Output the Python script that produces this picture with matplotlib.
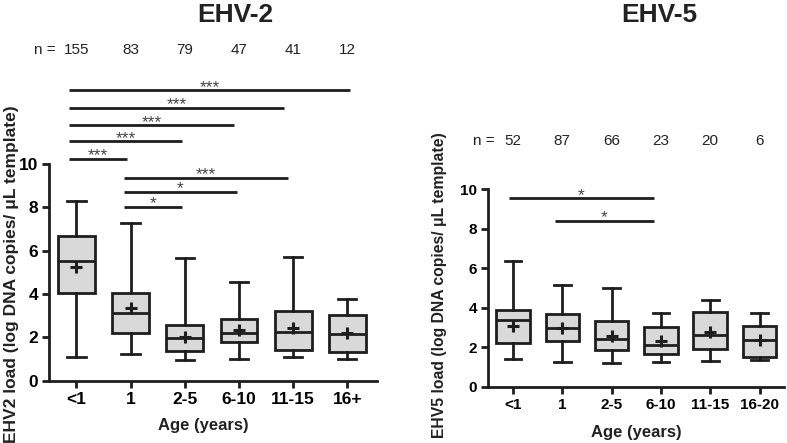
import numpy as np
import matplotlib.pyplot as plt

plt.rcParams['font.family'] = ['Liberation Sans', 'DejaVu Sans']

# EHV-2 data
ehv2_groups = ["<1", "1", "2-5", "6-10", "11-15", "16+"]
ehv2_n = [155, 83, 79, 47, 41, 12]
ehv2_whislo = [1.10, 1.22, 0.97, 0.98, 1.09, 0.98]
ehv2_q1 = [4.07, 2.20, 1.35, 1.78, 1.43, 1.34]
ehv2_med = [5.52, 3.11, 1.97, 2.18, 2.26, 2.15]
ehv2_q3 = [6.67, 4.06, 2.57, 2.86, 3.20, 3.02]
ehv2_whishi = [8.31, 7.29, 5.65, 4.54, 5.69, 3.78]
ehv2_mean = [5.26, 3.37, 2.02, 2.35, 2.42, 2.18]
# significance bars: start, end, height, label
ehv2_sig_x0 = [-0.14, -0.14, -0.14, -0.14, -0.14, 0.87, 0.87, 0.87]
ehv2_sig_x1 = [0.93, 1.95, 2.91, 3.84, 5.05, 1.95, 2.97, 3.91]
ehv2_sig_y = [10.24, 11.05, 11.78, 12.60, 13.41, 8.03, 8.72, 9.37]
ehv2_sig_lab = ["***", "***", "***", "***", "***", "*", "*", "***"]

# EHV-5 data
ehv5_groups = ["<1", "1", "2-5", "6-10", "11-15", "16-20"]
ehv5_n = [52, 87, 66, 23, 20, 6]
ehv5_whislo = [1.40, 1.23, 1.22, 1.27, 1.29, 1.37]
ehv5_q1 = [2.21, 2.33, 1.86, 1.64, 1.91, 1.49]
ehv5_med = [3.36, 2.96, 2.40, 2.11, 2.64, 2.35]
ehv5_q3 = [3.90, 3.67, 3.31, 3.04, 3.78, 3.07]
ehv5_whishi = [6.39, 5.15, 4.98, 3.73, 4.41, 3.75]
ehv5_mean = [3.09, 2.97, 2.58, 2.33, 2.77, 2.35]
ehv5_sig_x0 = [-0.08, 0.85]
ehv5_sig_x1 = [2.85, 2.85]
ehv5_sig_y = [9.55, 8.40]
ehv5_sig_lab = ["*", "*"]

dark = "#1e1e1e"
fill = "#d9d9d9"


def draw_panel(ax, groups, n, lo, q1, med, q3, hi, mean, sx0, sx1, sy, slab,
               xmax, ymax, tick_fs, n_y, n_eq_x):
    stats = []
    for i in range(len(groups)):
        stats.append(dict(whislo=lo[i], q1=q1[i], med=med[i], q3=q3[i],
                          whishi=hi[i], mean=mean[i], fliers=[]))
    pos = np.arange(len(groups))
    ax.bxp(stats, positions=pos, widths=0.68, showmeans=True, patch_artist=True,
           boxprops=dict(facecolor=fill, edgecolor=dark, linewidth=2),
           medianprops=dict(color=dark, linewidth=2),
           whiskerprops=dict(color=dark, linewidth=2),
           capprops=dict(color=dark, linewidth=2),
           capwidths=0.34,
           meanprops=dict(marker="+", markersize=9, markeredgewidth=2.2,
                          markeredgecolor=dark))
    for x0, x1, y, lab in zip(sx0, sx1, sy, slab):
        ax.plot([x0, x1], [y, y], color=dark, lw=2, clip_on=False,
                solid_capstyle="butt")
        ax.text((x0 + x1) / 2, y - 0.08, lab, ha="center", va="baseline",
                fontsize=12.5, color="#444444", clip_on=False)
    for i, v in enumerate(n):
        ax.text(i, n_y, str(v), ha="center", va="center", fontsize=11,
                color="#222222", clip_on=False)
    ax.text(n_eq_x, n_y, "n =", ha="right", va="center", fontsize=11,
            color="#222222", clip_on=False)

    ax.set_xlim(-0.5, xmax)
    ax.set_ylim(0, ymax)
    ax.set_xticks(pos)
    ax.set_xticklabels(groups, fontweight="bold", fontsize=tick_fs)
    ax.set_yticks([0, 2, 4, 6, 8, 10])
    ax.set_yticklabels(["0", "2", "4", "6", "8", "10"], fontweight="bold",
                       fontsize=tick_fs)
    for s in ["top", "right"]:
        ax.spines[s].set_visible(False)
    ax.spines["left"].set_bounds(0, 10)
    for s in ["left", "bottom"]:
        ax.spines[s].set_linewidth(2)
        ax.spines[s].set_color(dark)
    ax.tick_params(axis="both", length=5, width=2, color=dark, pad=3)


fig = plt.figure(figsize=(7.87, 4.43), dpi=100)

ax1 = fig.add_axes([0.0627, 0.1406, 0.4164, 0.6849])
draw_panel(ax1, ehv2_groups, ehv2_n, ehv2_whislo, ehv2_q1, ehv2_med, ehv2_q3,
           ehv2_whishi, ehv2_mean, ehv2_sig_x0, ehv2_sig_x1, ehv2_sig_y,
           ehv2_sig_lab, xmax=5.55, ymax=14, tick_fs=12.5, n_y=15.26,
           n_eq_x=-0.38)

ax2 = fig.add_axes([0.6205, 0.1271, 0.3759, 0.4677])
draw_panel(ax2, ehv5_groups, ehv5_n, ehv5_whislo, ehv5_q1, ehv5_med, ehv5_q3,
           ehv5_whishi, ehv5_mean, ehv5_sig_x0, ehv5_sig_x1, ehv5_sig_y,
           ehv5_sig_lab, xmax=5.5, ymax=10.5, tick_fs=11, n_y=12.47,
           n_eq_x=-0.38)

fig.text(0.2986, 0.966, "EHV-2", ha="center", va="center", fontsize=19,
         fontweight="bold", color="#222222")
fig.text(0.8374, 0.966, "EHV-5", ha="center", va="center", fontsize=19,
         fontweight="bold", color="#222222")
fig.text(0.0140, 0.3815, "EHV2 load (log DNA copies/ \u03bcL template)",
         rotation=90, ha="center", va="center", fontsize=12.5, fontweight="bold",
         color="#222222")
fig.text(0.559, 0.357, "EHV5 load (log DNA copies/ \u03bcL template)",
         rotation=90, ha="center", va="center", fontsize=11.3, fontweight="bold",
         color="#222222")
fig.text(0.258, 0.0406, "Age (years)", ha="center", va="center", fontsize=12,
         fontweight="bold", color="#222222")
fig.text(0.808, 0.0226, "Age (years)", ha="center", va="center", fontsize=12,
         fontweight="bold", color="#222222")

fig.savefig("out.png", dpi=100)
